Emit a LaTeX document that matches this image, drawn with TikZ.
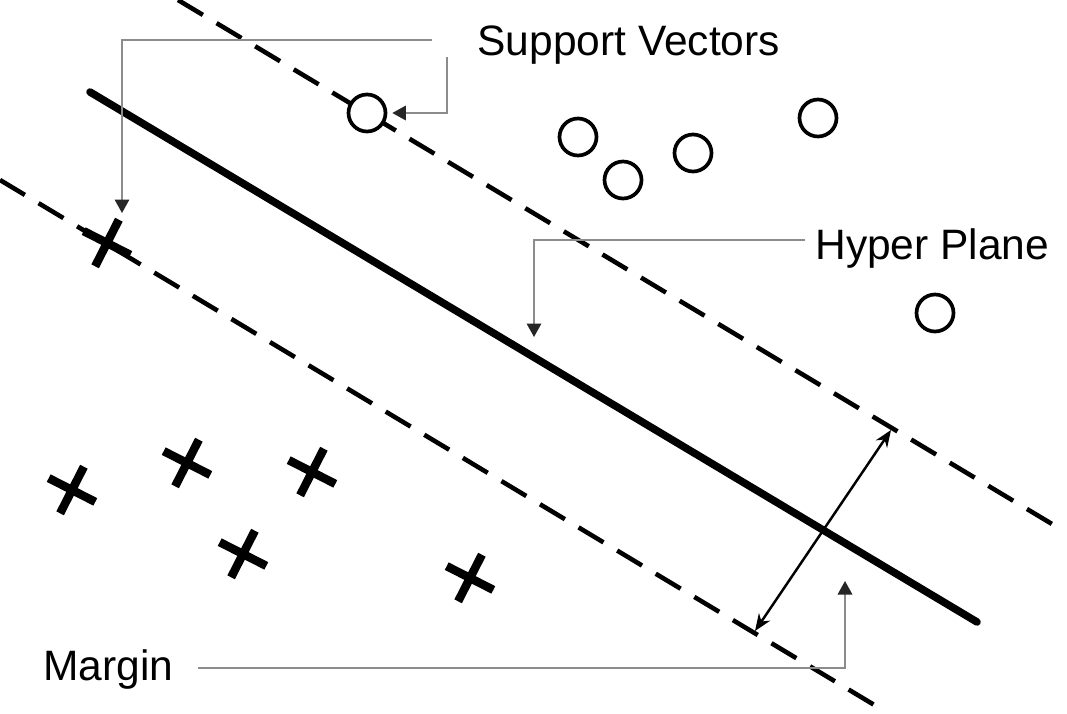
\documentclass[tikz,border=0pt]{standalone}
\usepackage{fontspec}
\setmainfont{Liberation Sans}
\usetikzlibrary{arrows.meta,calc,shapes.misc}

\begin{document}
\begin{tikzpicture}[
    x=0.02cm, y=-0.02cm,
    lab/.style={font=\fontsize{24.2}{28}\selectfont, inner sep=0pt, anchor=base west},
    opt/.style={circle, draw, fill=white, line width=2.1pt, minimum size=0.74cm, inner sep=0pt},
    xpt/.style={cross out, draw, line width=4.8pt, minimum size=0.74cm, inner sep=0pt, outer sep=0pt, rotate=18},
    mline/.style={line width=2.6pt, dash pattern=on 0.58cm off 0.32cm},
    hline/.style={line width=4.3pt, line cap=round},
    ann/.style={black!45, line width=1pt, -{Triangle[length=0.27cm, width=0.29cm, color=black!85]}},
    arr/.style={{Stealth[length=0.34cm, width=0.27cm]}-{Stealth[length=0.34cm, width=0.27cm]}, line width=1.4pt}
]
\useasboundingbox (0,0) rectangle (1067,713);

% Margin lines and hyper plane
\coordinate (u1) at (178,0);   \coordinate (u2) at (1062,530);
\coordinate (h1) at (90,92);   \coordinate (h2) at (977,622);
\coordinate (l1) at (0,180);   \coordinate (l2) at (886,712);
\draw[mline] (u1) -- (u2);
\draw[hline] (h1) -- (h2);
\draw[mline] (l1) -- (l2);

% Class o
\node[opt] (svo) at (367,113) {};
\foreach \px/\py [count=\i] in {578/137, 623/180, 693/153, 818/118, 935/313}
    \node[opt] (o\i) at (\px,\py) {};

% Class x
\node[xpt] (svx) at (107,243) {};
\foreach \px/\py [count=\i] in {72/490, 187/463, 312/472, 243/554, 470/578}
    \node[xpt] (x\i) at (\px,\py) {};

% Labels
\node[lab] (svlab) at (477,56) {Support Vectors};
\node[lab] (hplab) at (815,259) {Hyper Plane};
\node[lab] (mlab) at (43,680) {Margin};

% Callouts
\coordinate (svA) at (432,40);
\coordinate (svB) at (447,57);
\coordinate (hpA) at (805,240);
\coordinate (hpB) at (534,337);
\coordinate (mA) at (198,668);
\coordinate (mB) at (845,581);
\draw[ann] (svA) -| ([xshift=0.3cm, yshift=0.6cm]svx.center);
\draw[ann, shorten >=0.1cm] (svB) |- (svo.east);
\draw[ann] (hpA) -| (hpB);
\draw[ann] (mA) -| (mB);

% Margin width
\coordinate (mbot) at (755,631);
\coordinate (mtop) at (891,430);
\draw[arr] (mbot) -- (mtop);

\end{tikzpicture}
\end{document}
